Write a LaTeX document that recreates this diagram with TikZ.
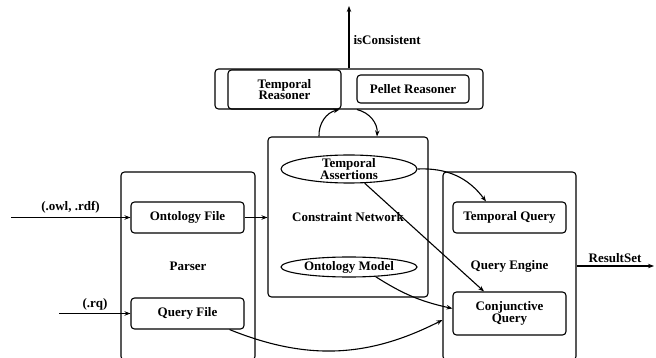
\documentclass[tikz,border=0pt]{standalone}
\usepackage{fontspec}
\setmainfont{Liberation Serif}
\usetikzlibrary{arrows.meta,shapes.geometric}
\begin{document}
\begin{tikzpicture}[x=1pt,y=1pt,
  font=\fontsize{13}{11.5}\selectfont\bfseries,
  line width=1.1pt,
  box/.style={draw, rounded corners=3.5pt, inner sep=0pt, align=center},
  oval/.style={draw, ellipse, inner sep=0pt},
  arr/.style={-{Stealth[length=6pt,width=4.5pt]}},
  lbl/.style={inner sep=0pt, align=center}]
\useasboundingbox (0,0) rectangle (656,-358);
\clip (0,0) rectangle (656,-358);
% reasoners
\node[box, minimum width=268pt, minimum height=40pt] (reas) at (349,-89) {};
\node[box, minimum width=113pt, minimum height=39pt] (tr) at (284.5,-89.5) {Temporal\\Reasoner};
\node[box, minimum width=112pt, minimum height=28pt] (pr) at (413,-89) {Pellet Reasoner};
\coordinate (cons) at (349,-6);
\draw[arr] (reas.north) -- (cons);
\node[lbl, anchor=west] (consl) at (353,-40) {isConsistent};
% constraint network
\node[box, minimum width=160pt, minimum height=160pt] (cn) at (348,-217) {Constraint Network};
\node[oval, minimum width=136pt, minimum height=28pt] (ta) at (349,-169) {};
\node[lbl] (tatxt) at (ta) {Temporal\\Assertions};
\node[oval, minimum width=136pt, minimum height=20pt] (om) at (349,-267) {};
\node[lbl] (omtxt) at (om) {Ontology Model};
% parser
\node[box, minimum width=134pt, minimum height=188pt] (parser) at (188,-266) {Parser};
\node[box, minimum width=113pt, minimum height=31pt] (of) at (187.5,-217.5) {Ontology File};
\node[box, minimum width=113pt, minimum height=31pt] (qf) at (187.5,-313.5) {Query File};
% query engine
\node[box, minimum width=133pt, minimum height=188pt] (qe) at (509.5,-266) {Query Engine};
\node[box, minimum width=113pt, minimum height=31pt] (tq) at (509.5,-217.5) {Temporal Query};
\node[box, minimum width=113pt, minimum height=43pt] (cq) at (509.5,-313.5) {Conjunctive\\Query};
% inputs
\coordinate (owlin) at (11,-217.5);
\coordinate (rqin) at (59,-313.5);
\draw[arr] (owlin) -- (of.west);
\node[lbl] (owll) at (70.5,-207) {(.owl, .rdf)};
\draw[arr] (rqin) -- (qf.west);
\node[lbl] (rql) at (95,-304) {(.rq)};
\draw[arr] (of.east) -- (of.east -| cn.west);
% reasoner loops
\draw[arr] ([xshift=-29pt]cn.north) to[bend left=40] ([xshift=-2pt]tr.south east);
\draw[arr] ([xshift=8pt]reas.south) to[bend left=40] ([xshift=29pt]cn.north);
% to query engine
\draw[arr] (ta.east) to[bend left=28] ([xshift=-23.5pt]tq.north);
\draw[arr] (ta) -- ([xshift=-25.5pt]cq.north);
\draw[arr] (om.-20) to[bend right=10] ([yshift=5pt]cq.west);
\draw[arr] ([xshift=42pt]qf.south) to[out=-22,in=207] ([yshift=-54pt]qe.west);
% output
\coordinate (resout) at (654,-266);
\draw[arr] (qe.east) -- (resout);
\node[lbl] (resl) at (615,-258) {ResultSet};
\end{tikzpicture}
\end{document}
